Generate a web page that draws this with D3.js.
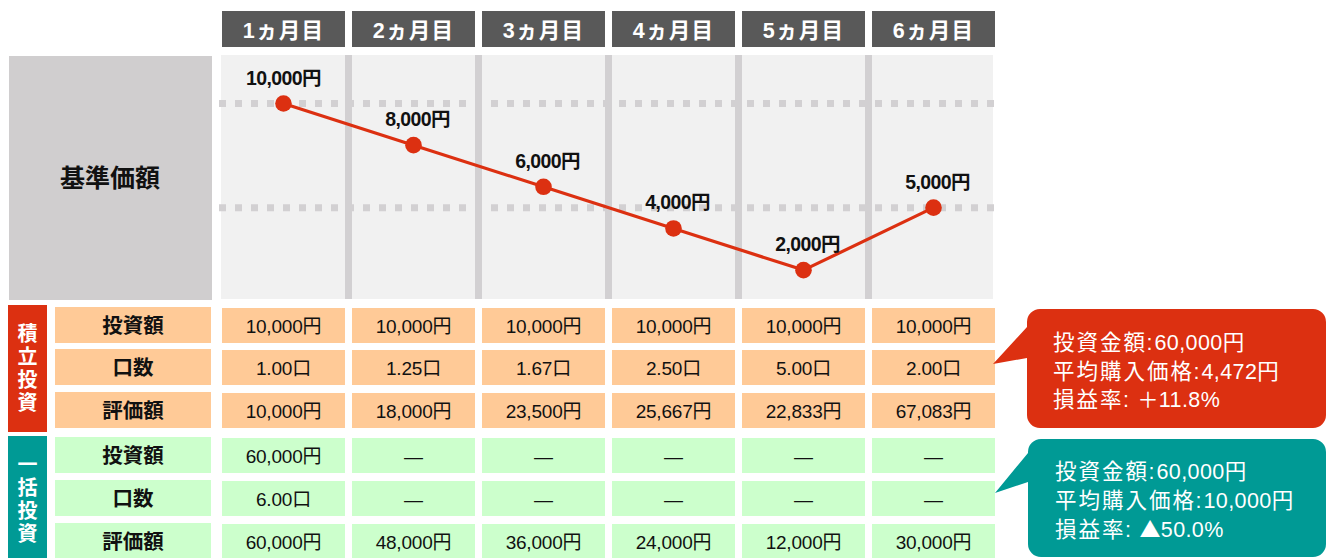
<!DOCTYPE html>
<html><head><meta charset="utf-8">
<script src="https://cdn.jsdelivr.net/npm/d3@7"></script>
<style>
html,body{margin:0;padding:0;background:#fff;}
svg{display:block;font-family:"Liberation Sans","Noto Sans CJK JP","Noto Sans",sans-serif;}
</style></head>
<body><svg id="c" width="1327" height="558"></svg>
<script>
const months = ["1ヵ月目","2ヵ月目","3ヵ月目","4ヵ月目","5ヵ月目","6ヵ月目"];
const prices = [10000, 8000, 6000, 4000, 2000, 5000];
const gridValues = [10000, 5000];
const panelTitle = "基準価額";
const groups = ["積立投資", "一括投資"];
const rowLabels = ["投資額", "口数", "評価額"];
const tsumitateInvest = ["10,000円","10,000円","10,000円","10,000円","10,000円","10,000円"];
const tsumitateUnits  = ["1.00口","1.25口","1.67口","2.50口","5.00口","2.00口"];
const tsumitateValue  = ["10,000円","18,000円","23,500円","25,667円","22,833円","67,083円"];
const ikkatsuInvest   = ["60,000円","―","―","―","―","―"];
const ikkatsuUnits    = ["6.00口","―","―","―","―","―"];
const ikkatsuValue    = ["60,000円","48,000円","36,000円","24,000円","12,000円","30,000円"];
const calloutLabels = ["投資金額", "平均購入価格", "損益率"];
const tsumitateSummary = ["60,000円", "4,472円", " ＋11.8%"];
const ikkatsuSummary   = ["60,000円", "10,000円", " ▲50.0%"];

const RED = "#dc3011", TEAL = "#009a95", ORANGE = "#ffca97", GREEN = "#ccffcc";
const svg = d3.select("#c");

const x = d3.scaleBand().domain(months).range([222, 995]).paddingInner(0.054).paddingOuter(0);
const y = d3.scaleLinear().domain([0, 10000]).range([311.8, 103.5]);
const cx = m => x(m) + x.bandwidth() / 2;

// header
const hdr = svg.append("g");
hdr.selectAll("rect").data(months).join("rect")
  .attr("x", d => x(d)).attr("y", 11).attr("width", x.bandwidth()).attr("height", 36).attr("fill", "#595959");
hdr.selectAll("text").data(months).join("text")
  .attr("x", d => cx(d)).attr("y", 31).attr("text-anchor", "middle").attr("dominant-baseline", "central")
  .attr("fill", "#fff").attr("font-size", 21.5).attr("font-weight", "bold").attr("letter-spacing", 1.3)
  .text(d => d);

// left panel
svg.append("rect").attr("x", 9).attr("y", 56).attr("width", 203).attr("height", 244).attr("fill", "#d0cecf");
svg.append("text").attr("x", 110).attr("y", 178).attr("text-anchor", "middle").attr("dominant-baseline", "central")
  .attr("font-size", 25).attr("font-weight", "bold").attr("fill", "#111").text(panelTitle);

// chart bg
svg.append("rect").attr("x", 221).attr("y", 55).attr("width", 772).attr("height", 244).attr("fill", "#f1f1f1");
// separators
svg.append("g").selectAll("rect").data(months.slice(1)).join("rect")
  .attr("x", d => x(d) - 7).attr("y", 55).attr("width", 7).attr("height", 244).attr("fill", "#d2d0d2");
// dotted grid
svg.append("g").selectAll("line").data(gridValues).join("line")
  .attr("x1", 219).attr("x2", 995).attr("y1", d => y(d)).attr("y2", d => y(d))
  .attr("stroke", "#d2d0d2").attr("stroke-width", 7).attr("stroke-dasharray", "7,9");

// line
const pts = months.map((m, i) => [cx(m), y(prices[i])]);
svg.append("path").attr("d", d3.line()(pts)).attr("fill", "none").attr("stroke", RED).attr("stroke-width", 3.2);
svg.append("g").selectAll("circle").data(pts).join("circle")
  .attr("cx", d => d[0]).attr("cy", d => d[1]).attr("r", 8.3).attr("fill", RED);
svg.append("g").selectAll("text").data(prices).join("text")
  .attr("x", (d, i) => cx(months[i]) + (i === 0 ? 0 : 4)).attr("y", d => y(d) - 26)
  .attr("text-anchor", "middle").attr("dominant-baseline", "central")
  .attr("font-size", 19.5).attr("font-weight", "bold").attr("fill", "#111").attr("letter-spacing", -0.6)
  .text(d => d3.format(",")(d) + "円");

// table
const rowsData = [
  {g: 0, label: rowLabels[0], vals: tsumitateInvest, top: 308},
  {g: 0, label: rowLabels[1], vals: tsumitateUnits, top: 350},
  {g: 0, label: rowLabels[2], vals: tsumitateValue, top: 393},
  {g: 1, label: rowLabels[0], vals: ikkatsuInvest, top: 438},
  {g: 1, label: rowLabels[1], vals: ikkatsuUnits, top: 481},
  {g: 1, label: rowLabels[2], vals: ikkatsuValue, top: 524}
];
const RH = 35;
const rowG = svg.append("g").selectAll("g").data(rowsData).join("g");
rowG.append("rect").attr("x", 55).attr("y", d => d.top - 1).attr("width", 156).attr("height", RH + 1)
  .attr("fill", d => d.g === 0 ? ORANGE : GREEN);
rowG.append("text").attr("x", 133).attr("y", d => d.top + RH / 2).attr("text-anchor", "middle")
  .attr("dominant-baseline", "central").attr("font-size", 20.5).attr("font-weight", "bold").attr("fill", "#111")
  .text(d => d.label);
rowG.each(function(r) {
  const g = d3.select(this);
  g.selectAll("rect.cell").data(r.vals).join("rect").attr("class", "cell")
    .attr("x", (d, i) => x(months[i])).attr("y", r.top).attr("width", x.bandwidth()).attr("height", RH)
    .attr("fill", r.g === 0 ? ORANGE : GREEN);
  g.selectAll("text.cell").data(r.vals).join("text").attr("class", "cell")
    .attr("x", (d, i) => cx(months[i])).attr("y", r.top + RH / 2 + 1).attr("text-anchor", "middle")
    .attr("dominant-baseline", "central").attr("font-size", 19).attr("fill", "#111").attr("letter-spacing", -0.2)
    .text(d => d);
});

// group boxes
const groupBoxes = [{name: groups[0], y0: 305, y1: 432, c: RED, mid: 368}, {name: groups[1], y0: 436, y1: 560, c: TEAL, mid: 499}];
groupBoxes.forEach(gb => {
  svg.append("rect").attr("x", 8).attr("y", gb.y0).attr("width", 39).attr("height", gb.y1 - gb.y0).attr("fill", gb.c);
  const chars = Array.from(gb.name);
  svg.append("g").selectAll("text").data(chars).join("text")
    .attr("x", 27.5).attr("y", (d, i) => gb.mid + (i - 1.5) * 23)
    .attr("text-anchor", "middle").attr("dominant-baseline", "central")
    .attr("font-size", 20).attr("font-weight", "bold").attr("fill", "#fff").text(d => d);
});

// callouts
function bubble(x0, y0, x1, y1, r, tip, pa, pb) {
  const p = d3.path();
  p.moveTo(x0 + r, y0);
  p.lineTo(x1 - r, y0); p.arcTo(x1, y0, x1, y0 + r, r);
  p.lineTo(x1, y1 - r); p.arcTo(x1, y1, x1 - r, y1, r);
  p.lineTo(x0 + r, y1); p.arcTo(x0, y1, x0, y1 - r, r);
  p.lineTo(x0, pb); p.lineTo(tip[0], tip[1]); p.lineTo(x0, pa);
  p.lineTo(x0, y0 + r); p.arcTo(x0, y0, x0 + r, y0, r);
  p.closePath();
  return p.toString();
}
const callouts = [
  {c: RED, box: [1027, 309, 1326, 428], tip: [993, 364], pa: 327, pb: 358, tx: 1053, base: [350, 378.5, 407], vals: tsumitateSummary},
  {c: TEAL, box: [1028, 439, 1326, 557], tip: [995, 493], pa: 453, pb: 482, tx: 1055, base: [479, 508, 537], vals: ikkatsuSummary}
];
callouts.forEach(co => {
  svg.append("path").attr("d", bubble(co.box[0], co.box[1], co.box[2], co.box[3], 13, co.tip, co.pa, co.pb)).attr("fill", co.c);
  const t = svg.append("g").selectAll("text").data(calloutLabels).join("text")
    .attr("x", co.tx).attr("y", (d, i) => co.base[i]).attr("fill", "#fff").attr("font-size", 21.5);
  t.append("tspan").attr("letter-spacing", 2).text(d => d);
  t.append("tspan").attr("dx", -0.5).text(":");
  t.each(function(d, i) {
    const parts = co.vals[i].split(/([＋▲])/).filter(s => s.length);
    const sel = d3.select(this);
    parts.forEach((s, k) => {
      const ts = sel.append("tspan").attr("letter-spacing", 0.4).text(s);
      if (k === 0) ts.attr("dx", 2);
      if (/[＋▲]/.test(s)) ts.attr("font-family", "'Noto Sans CJK JP'").attr("font-size", 21);
    });
  });
});
</script></body></html>
